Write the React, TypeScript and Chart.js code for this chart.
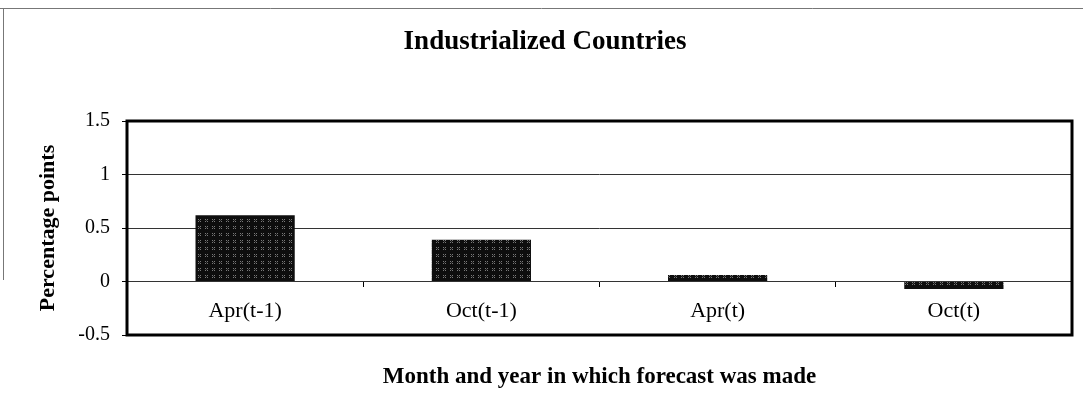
import React, { useEffect, useRef } from "react";
import { Chart, registerables } from "chart.js";

Chart.register(...registerables);

const categories = ["Apr(t-1)", "Oct(t-1)", "Apr(t)", "Oct(t)"];
const values = [0.62, 0.39, 0.06, -0.07];
const yTicks = [-0.5, 0, 0.5, 1, 1.5];
const chartTitle = "Industrialized Countries";
const yTitle = "Percentage points";
const xTitle = "Month and year in which forecast was made";

const FONT = "'Liberation Serif', 'Times New Roman', serif";

function makePattern(): CanvasPattern | string {
  const c = document.createElement("canvas");
  c.width = 7;
  c.height = 7;
  const g = c.getContext("2d");
  if (!g) return "#222";
  g.fillStyle = "#0e0e0e";
  g.fillRect(0, 0, 7, 7);
  g.fillStyle = "#7a7a7a";
  g.fillRect(2, 2, 1, 1);
  g.fillRect(4, 4, 1, 1);
  g.fillRect(4, 2, 1, 1);
  g.fillRect(2, 4, 1, 1);
  g.fillStyle = "#444";
  g.fillRect(3, 3, 1, 1);
  return g.createPattern(c, "repeat") || "#222";
}

const framePlugin = {
  id: "frame",
  beforeDraw(chart: any) {
    const ctx = chart.ctx;
    ctx.save();
    ctx.strokeStyle = "#777";
    ctx.lineWidth = 1;
    ctx.beginPath();
    ctx.moveTo(0, 8.5);
    ctx.lineTo(chart.width, 8.5);
    ctx.moveTo(3.5, 8);
    ctx.lineTo(3.5, 280);
    ctx.stroke();
    ctx.restore();
  },
  afterDatasetsDraw(chart: any) {
    const { left, top, right, bottom } = chart.chartArea;
    const ctx = chart.ctx;
    ctx.save();
    ctx.strokeStyle = "#000";
    ctx.lineWidth = 3;
    ctx.strokeRect(left, top, right - left, bottom - top);
    ctx.restore();
  },
};

export default function App() {
  const ref = useRef<HTMLCanvasElement | null>(null);

  useEffect(() => {
    if (!ref.current) return;
    const pattern = makePattern();
    const chart = new Chart(ref.current, {
      type: "bar",
      data: {
        labels: categories,
        datasets: [
          {
            data: values,
            backgroundColor: pattern as any,
            borderColor: "#000",
            borderWidth: 0,
            categoryPercentage: 1,
            barPercentage: 0.42,
          },
        ],
      },
      options: {
        responsive: false,
        animation: false,
        devicePixelRatio: 1,
        layout: { padding: { left: 18, right: 11, top: 0, bottom: 85 } },
        plugins: {
          legend: { display: false },
          tooltip: { enabled: false },
          title: {
            display: true,
            text: chartTitle,
            color: "#000",
            font: { family: FONT, size: 27, weight: "bold" },
            padding: { top: 26, bottom: 62.6 },
          },
        },
        scales: {
          x: {
            position: { y: 0 } as any,
            offset: true,
            grid: {
              display: true,
              drawOnChartArea: false,
              drawTicks: true,
              tickLength: 5,
              offset: true,
              color: "#000",
              tickColor: "#000",
            },
            border: { display: false },
            ticks: {
              padding: 12,
              color: "#000",
              font: { family: FONT, size: 22 },
              maxRotation: 0,
              autoSkip: false,
            },
            title: {
              display: true,
              text: xTitle,
              color: "#000",
              font: { family: FONT, size: 23, weight: "bold" },
              padding: { top: 26, bottom: 0 },
            },
          },
          y: {
            min: -0.5,
            max: 1.5,
            afterBuildTicks: (s: any) => {
              s.ticks = yTicks.map((v) => ({ value: v }));
            },
            afterFit: (s: any) => {
              s.width = 109;
            },
            grid: {
              color: "#333",
              lineWidth: 1,
              drawTicks: true,
              tickLength: 5,
              tickColor: "#000",
            },
            border: { display: false },
            ticks: {
              padding: 12,
              color: "#000",
              font: { family: FONT, size: 20 },
              callback: (v: any) => String(v),
            },
            title: {
              display: true,
              text: yTitle,
              color: "#000",
              font: { family: FONT, size: 22, weight: "bold" },
              padding: { top: 17, bottom: 0 },
            },
          },
        },
      },
      plugins: [framePlugin],
    });
    return () => chart.destroy();
  }, []);

  return (
    <div style={{ position: "absolute", left: 0, top: 0, width: 1083, height: 420, background: "#fff" }}>
      <canvas ref={ref} width={1083} height={420} style={{ display: "block" }} />
    </div>
  );
}
